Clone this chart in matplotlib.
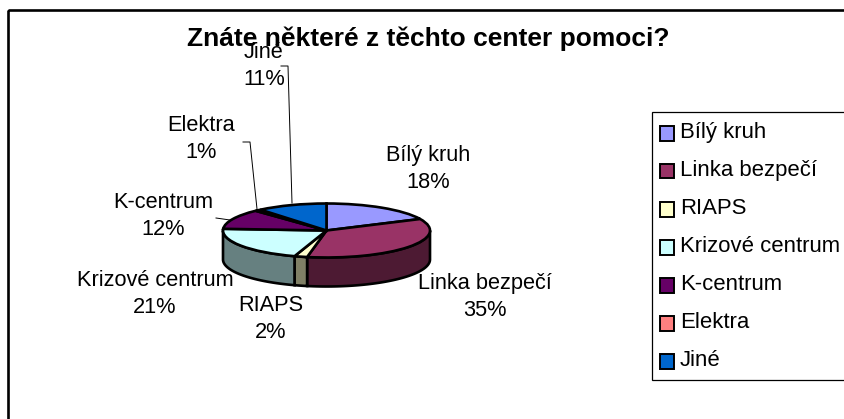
import numpy as np
import matplotlib
matplotlib.use("Agg")
import matplotlib.pyplot as plt
from matplotlib.patches import Rectangle

plt.rcParams['font.family'] = ['Liberation Sans', 'DejaVu Sans']

W, H = 844, 419

categories = ['Bílý kruh', 'Linka bezpečí', 'RIAPS', 'Krizové centrum', 'K-centrum', 'Elektra', 'Jiné']
values = [18, 35, 2, 21, 12, 1, 11]
colors = ['#9999FF', '#993366', '#FFFFCC', '#CCFFFF', '#660066', '#FF8080', '#0066CC']
side_colors = ['#4D4D80', '#4D1A33', '#808066', '#668080', '#330033', '#804040', '#003366']
title = 'Znáte některé z těchto center pomoci?'

label_pos = [(428, 169), (485, 297), (271, 319), (155, 294), (163, 216), (201, 139), (264, 66)]

fig = plt.figure(figsize=(W / 100, H / 100), dpi=100, facecolor='white')

# pixel overlay for frame, text and legend
ov = fig.add_axes([0, 0, 1, 1], zorder=3)
ov.set_xlim(0, W)
ov.set_ylim(H, 0)
ov.axis('off')
ov.patch.set_alpha(0)

ov.add_patch(Rectangle((7.5, 10.5), W, H, fill=False, ec='black', lw=1.9))
ov.text(428, 39, title, ha='center', va='center', fontsize=19, fontweight='bold')

# pie axes sit on the top ellipse and its wall
cx, cy, rx, ry, depth = 326.5, 230.5, 103.5, 27, 29
ax = fig.add_axes([(cx - rx) / W, 1 - (cy + ry + depth) / H, 2 * rx / W, (2 * ry + depth) / H], zorder=2)
ax.pie(values, colors=colors, startangle=90, counterclock=False, radius=1,
       wedgeprops={'edgecolor': 'black', 'linewidth': 1.9, 'zorder': 3})
ax.set_aspect('auto')
ax.set_xlim(-1, 1)
d = depth / ry
ax.set_ylim(-1 - d, 1)
ax.axis('off')

# outer wall of the disc, only the front half shows
start = 90.0
for val, side in zip(values, side_colors):
    end = start - val * 3.6
    a0, a1 = max(end, -180), min(start, 0)
    if a1 > a0:
        t = np.radians(np.linspace(a0, a1, 60))
        xs = np.concatenate([np.cos(t), np.cos(t[::-1])])
        ys = np.concatenate([np.sin(t), np.sin(t[::-1]) - d])
        ax.fill(xs, ys, facecolor=side, edgecolor='black', lw=1.9, zorder=2, clip_on=False)
    start = end

for cat, val, (x, y) in zip(categories, values, label_pos):
    ov.text(x, y, f'{cat}\n{val}%', ha='center', va='center', fontsize=15.7, linespacing=1.36)

ov.plot([216, 230], [218, 220], color='black', lw=0.7)
ov.plot([243, 250, 257], [142, 142, 209], color='black', lw=0.7)
ov.plot([281, 288, 292], [66, 66, 203], color='black', lw=0.7)

# legend
ov.add_patch(Rectangle((652, 112), 200, 268, fc='white', ec='black', lw=0.9))
for i, (cat, col) in enumerate(zip(categories, colors)):
    y = 132 + i * 38
    ov.add_patch(Rectangle((659.5, y - 6), 14.5, 14.5, fc=col, ec='black', lw=1.4))
    ov.text(680, y, cat, ha='left', va='center', fontsize=15.9)

fig.savefig('out.png', dpi=100)
